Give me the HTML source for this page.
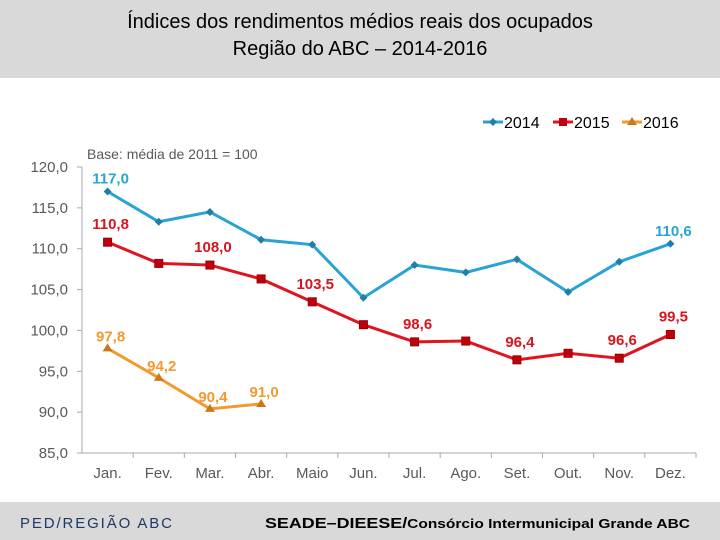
<!DOCTYPE html>
<html><head><meta charset="utf-8"><style>
body{margin:0;width:720px;height:540px;overflow:hidden;background:#fff;font-family:"Liberation Sans",sans-serif}
#hdr{position:absolute;left:0;top:0;width:720px;height:78px;background:#d9d9d9;text-align:center;font-size:20px;line-height:27px;padding-top:9px;box-sizing:border-box;color:#000}
#ftr{position:absolute;left:0;top:502px;width:720px;height:38px;background:#d9d9d9}
svg{position:absolute;left:0;top:0}
</style></head><body>
<div id="hdr">Índices dos rendimentos médios reais dos ocupados<br>Região do ABC – 2014-2016</div>
<div id="ftr"></div>
<svg id="c" width="720" height="540"></svg>
<script>
const categories=["Jan.","Fev.","Mar.","Abr.","Maio","Jun.","Jul.","Ago.","Set.","Out.","Nov.","Dez."];
const s2014=[117.0,113.3,114.5,111.1,110.5,104.0,108.0,107.1,108.7,104.7,108.4,110.6];
const s2015=[110.8,108.2,108.0,106.3,103.5,100.7,98.6,98.7,96.4,97.2,96.6,99.5];
const s2016=[97.8,94.2,90.4,91.0];
const yTicks=[85,90,95,100,105,110,115,120];
const yTickLabels=["85,0","90,0","95,0","100,0","105,0","110,0","115,0","120,0"];
const lbl2014=[[0,"117,0"],[11,"110,6"]];
const lbl2015=[[0,"110,8"],[2,"108,0"],[4,"103,5"],[6,"98,6"],[8,"96,4"],[10,"96,6"],[11,"99,5"]];
const lbl2016=[[0,"97,8"],[1,"94,2"],[2,"90,4"],[3,"91,0"]];
const NS="http://www.w3.org/2000/svg",svg=document.getElementById('c');
const x0=82,x1=696,yTop=167,yBot=453,yMin=85,yMax=120;
const bw=(x1-x0)/categories.length;
const X=i=>x0+bw*(i+0.5), Y=v=>yBot-(v-yMin)/(yMax-yMin)*(yBot-yTop);
function mk(t,a,p){const e=document.createElementNS(NS,t);for(const k in a)e.setAttribute(k,a[k]);(p||svg).appendChild(e);return e;}
let e=mk('line',{x1:x0,y1:yTop,x2:x0,y2:yBot,stroke:'#aaa'});

e=mk('line',{x1:x0,y1:yBot,x2:x1,y2:yBot,stroke:'#aaa'});

yTicks.forEach((v,i)=>{mk('line',{x1:x0-5,y1:Y(v),x2:x0,y2:Y(v),stroke:'#aaa'});
 const t=mk('text',{x:x0-14,y:Y(v)+5,'text-anchor':'end','font-size':15,fill:'#595959'});t.textContent=yTickLabels[i];
 });
categories.forEach((c,i)=>{mk('line',{x1:x0+bw*(i+1),y1:yBot,x2:x0+bw*(i+1),y2:yBot+5,stroke:'#aaa'});
 const t=mk('text',{x:X(i),y:yBot+25,'text-anchor':'middle','font-size':15,fill:'#595959'});t.textContent=c;
 });
let t=mk('text',{x:87,y:159,'font-size':14,fill:'#595959'});t.textContent='Base: média de 2011 = 100';

function series(vals,col,name,shape){
 const g=mk('g',{});
 mk('polyline',{points:vals.map((v,i)=>X(i)+','+Y(v)).join(' '),fill:'none',stroke:col,'stroke-width':3},g);
 vals.forEach((v,i)=>{const x=X(i),y=Y(v);let m;
  if(shape=='d')m=mk('path',{d:`M${x} ${y-4}L${x+4} ${y}L${x} ${y+4}L${x-4} ${y}Z`,fill:'#1f7fa8'},g);
  else if(shape=='s')m=mk('rect',{x:x-4,y:y-4,width:8,height:8,fill:'#c0000f',stroke:'#900'},g);
  else m=mk('path',{d:`M${x} ${y-5}L${x+5} ${y+3}L${x-5} ${y+3}Z`,fill:'#c87a1a'},g);
  });
}
series(s2014,'#29a3d6','2014','d');series(s2015,'#e0141e','2015','s');series(s2016,'#f29a2e','2016','t');
function labels(arr,vals,col,dy,dx){arr.forEach(([i,s])=>{const t=mk('text',{x:X(i)+(dx||0),y:Y(vals[i])+dy,'text-anchor':'middle','font-size':15,'font-weight':'bold',fill:col});t.textContent=s;
 });}
labels(lbl2014,s2014,'#29a3d6',-8,3);
labels(lbl2015,s2015,'#d9141e',-13,3);
labels(lbl2016,s2016,'#f29a2e',-7,3);
[['2014','#29a3d6','d',483],['2015','#e0141e','s',553],['2016','#f29a2e','t',622]].forEach(([n,c,s,x])=>{
 const g=mk('g',{});
 mk('line',{x1:x,y1:122,x2:x+20,y2:122,stroke:c,'stroke-width':3},g);
 if(s=='d')mk('path',{d:`M${x+10} 118L${x+14} 122L${x+10} 126L${x+6} 122Z`,fill:'#1f7fa8'},g);
 else if(s=='s')mk('rect',{x:x+6,y:118,width:8,height:8,fill:'#c0000f'},g);
 else mk('path',{d:`M${x+10} 117L${x+15} 125L${x+5} 125Z`,fill:'#c87a1a'},g);
 const t=mk('text',{x:x+21,y:128,'font-size':16,fill:'#000'},g);t.textContent=n;});
t=mk('text',{x:20,y:528,'font-size':15,fill:'#1f3864',textLength:152,lengthAdjust:'spacing'});t.textContent='PED/REGIÃO ABC';

t=mk('text',{x:265,y:528,'font-size':15,'font-weight':'bold',fill:'#000',textLength:425,lengthAdjust:'spacingAndGlyphs'});t.innerHTML='SEADE–DIEESE/<tspan font-size="13">Consórcio Intermunicipal Grande ABC</tspan>';

</script>
</body></html>
